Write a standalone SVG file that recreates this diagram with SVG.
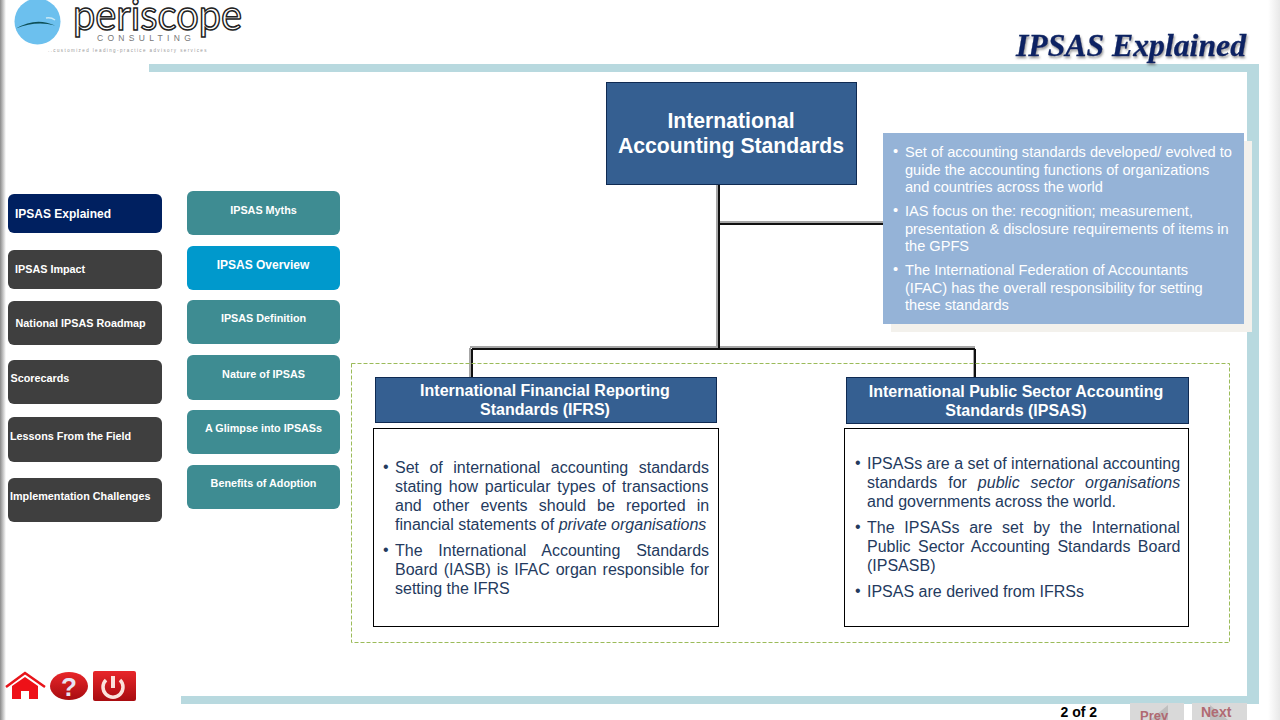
<svg xmlns="http://www.w3.org/2000/svg" width="1280" height="720" viewBox="0 0 1280 720">
<style>
text{font-family:"Liberation Sans",Arial,sans-serif}
.nav{fill:#fff;font-weight:700;font-size:10.800px}
.hd{fill:#fff;font-weight:700;font-size:16px;text-anchor:middle}
.dk{fill:#243a5e;font-size:16px}
.wt{fill:#fff;font-size:14.600px}
.g{fill:#3f3f3f}.t{fill:#3e8c92}
.cs{stroke:#a6a6a6;stroke-width:2;fill:none}
.ck{stroke:#111;stroke-width:2;fill:none}
</style>
<defs>
<linearGradient id="ls" x1="0" x2="1" y1="0" y2="0"><stop offset="0" stop-color="#8a8a8a"/><stop offset="1" stop-color="#fff"/></linearGradient>
<linearGradient id="rs" x1="0" x2="1" y1="0" y2="0"><stop offset="0" stop-color="#fff"/><stop offset="1" stop-color="#e8e8e8"/></linearGradient>
<linearGradient id="red" x1="0" x2="0" y1="0" y2="1"><stop offset="0" stop-color="#e8262a"/><stop offset="1" stop-color="#a80c10"/></linearGradient>
<filter id="sh" x="-5%" y="-20%" width="110%" height="140%"><feDropShadow dx="1" dy="2" stdDeviation="1" flood-color="#555" flood-opacity=".6"/></filter>
</defs>
<rect width="1280" height="720" fill="#fff"/>
<rect x="0" y="0" width="6" height="720" fill="url(#ls)"/>
<rect x="1268" y="0" width="12" height="720" fill="url(#rs)"/>
<g id="frame" fill="#b8d9df">
<rect x="149" y="64" width="1110" height="8"/>
<rect x="1247" y="64" width="12" height="639"/>
<rect x="181" y="696" width="1078" height="8"/>
</g>
<g id="logo">
<circle cx="37.500" cy="21.500" r="23" fill="#6cc0ee"/>
<path d="M16 28.500Q36 16.500 55 25.500Q36 20.500 16 28.500Z" fill="#0d4f57"/>
<path d="M46 18Q51 17 55 20" fill="none" stroke="#c8e8f6" stroke-width="1.500"/>
<text x="73" y="30" font-size="42" fill="#fff" stroke="#222" stroke-width="1.500" style="font-family:Lato,'Liberation Sans',sans-serif" textLength="169" lengthAdjust="spacingAndGlyphs">periscope</text>
<text x="97" y="41" font-size="8.500" fill="#777" letter-spacing="4.300">CONSULTING</text>
<text x="48" y="52" font-size="4.500" fill="#999" letter-spacing="1.400">..customized leading-practice advisory services</text>
</g>
<text id="title" x="1016" y="56" textLength="230" lengthAdjust="spacingAndGlyphs" font-size="31.500" font-weight="700" font-style="italic" fill="#0b2463" stroke="#0b2463" stroke-width=".3" filter="url(#sh)" style="font-family:'Liberation Serif',serif">IPSAS Explained</text>
<g id="connectors">
<path class="cs" d="M717 185V347M717 222H883M470 348V377M470 347H975M974 348V377"/>
<path class="ck" d="M719 185V348M719 224H883M472 349V377M472 349H975M975 349V377"/>
</g>
<g id="root"><rect x="606.500" y="82.500" width="250" height="102" fill="#355f91" stroke="#0f2a52"/>
<text class="hd" style="font-size:21.200px"><tspan x="731" y="128">International</tspan><tspan x="731" y="153">Accounting Standards</tspan></text></g>
<g id="info"><rect x="891" y="141" width="361" height="191" fill="#f3f1ec"/><rect x="883" y="133" width="361" height="191" fill="#95b3d7"/>
<text class="wt">
<tspan x="893" y="156">•</tspan><tspan x="905" y="157">Set of accounting standards developed/ evolved to</tspan>
<tspan x="905" y="175">guide the accounting functions of organizations</tspan>
<tspan x="905" y="192">and countries across the world</tspan>
<tspan x="893" y="215">•</tspan><tspan x="905" y="216">IAS focus on the: recognition; measurement,</tspan>
<tspan x="905" y="234">presentation &amp; disclosure requirements of items in</tspan>
<tspan x="905" y="251">the GPFS</tspan>
<tspan x="893" y="274">•</tspan><tspan x="905" y="275">The International Federation of Accountants</tspan>
<tspan x="905" y="293">(IFAC) has the overall responsibility for setting</tspan>
<tspan x="905" y="310">these standards</tspan>
</text></g>
<g id="outline"><rect x="351.500" y="363.500" width="878" height="279" fill="none" stroke="#9bbb59" stroke-dasharray="4 2"/></g>
<g id="ifrs"><rect x="375.500" y="377.500" width="341" height="45" fill="#355f91" stroke="#0f2a52"/>
<text class="hd"><tspan x="545" y="396">International Financial Reporting</tspan><tspan x="545" y="415">Standards (IFRS)</tspan></text></g>
<g id="ipsas"><rect x="846.500" y="377.500" width="342" height="46" fill="#355f91" stroke="#0f2a52"/>
<text class="hd"><tspan x="1016" y="397">International Public Sector Accounting</tspan><tspan x="1016" y="416">Standards (IPSAS)</tspan></text></g>
<g id="ifrs-body"><rect x="373.500" y="428.500" width="345" height="198" fill="#fff" stroke="#000"/>
<text class="dk">
<tspan x="383" y="472">•</tspan><tspan x="395" y="473" word-spacing="6">Set of international accounting standards</tspan>
<tspan x="395" y="492" word-spacing="2.200">stating how particular types of transactions</tspan>
<tspan x="395" y="511" word-spacing="6.700">and other events should be reported in</tspan>
<tspan x="395" y="530">financial statements of <tspan font-style="italic">private organisations</tspan></tspan>
<tspan x="383" y="555">•</tspan><tspan x="395" y="556" word-spacing="11.300">The International Accounting Standards</tspan>
<tspan x="395" y="575" word-spacing="1.500">Board (IASB) is IFAC organ responsible for</tspan>
<tspan x="395" y="594">setting the IFRS</tspan>
</text></g>
<g id="ipsas-body"><rect x="844.500" y="428.500" width="344" height="198" fill="#fff" stroke="#000"/>
<text class="dk">
<tspan x="855" y="468">•</tspan><tspan x="867" y="469">IPSASs are a set of international accounting</tspan>
<tspan x="867" y="488" word-spacing="6.500">standards for <tspan font-style="italic">public sector organisations</tspan></tspan>
<tspan x="867" y="507">and governments across the world.</tspan>
<tspan x="855" y="532">•</tspan><tspan x="867" y="533" word-spacing="5.300">The IPSASs are set by the International</tspan>
<tspan x="867" y="552" word-spacing="3">Public Sector Accounting Standards Board</tspan>
<tspan x="867" y="571">(IPSASB)</tspan>
<tspan x="855" y="596">•</tspan><tspan x="867" y="597">IPSAS are derived from IFRSs</tspan>
</text></g>
<g id="nav1"><rect x="8" y="194" width="154" height="39" rx="6" fill="#002060"/><text class="nav" style="font-size:12px" x="15" y="218">IPSAS Explained</text></g>
<g id="nav2"><rect class="g" x="8" y="250" width="154" height="39" rx="6"/><text class="nav" x="15" y="273">IPSAS Impact</text></g>
<g id="nav3"><rect class="g" x="8" y="301" width="154" height="44" rx="6"/><text class="nav" x="15.500" y="327">National IPSAS Roadmap</text></g>
<g id="nav4"><rect class="g" x="8" y="360" width="154" height="44" rx="6"/><text class="nav" x="10.500" y="382">Scorecards</text></g>
<g id="nav5"><rect class="g" x="8" y="417" width="154" height="45" rx="6"/><text class="nav" x="10" y="440">Lessons From the Field</text></g>
<g id="nav6"><rect class="g" x="8" y="478" width="154" height="44" rx="6"/><text class="nav" x="10" y="500">Implementation Challenges</text></g>
<g id="sub1"><rect class="t" x="187" y="191" width="153" height="44" rx="6"/><text class="nav" text-anchor="middle" x="263.500" y="214">IPSAS Myths</text></g>
<g id="sub2"><rect x="187" y="246" width="153" height="44" rx="6" fill="#0099cc"/><text class="nav" style="font-size:12px" text-anchor="middle" x="263" y="269">IPSAS Overview</text></g>
<g id="sub3"><rect class="t" x="187" y="300" width="153" height="44" rx="6"/><text class="nav" text-anchor="middle" x="263.500" y="322">IPSAS Definition</text></g>
<g id="sub4"><rect class="t" x="187" y="355" width="153" height="45" rx="6"/><text class="nav" text-anchor="middle" x="263.500" y="378">Nature of IPSAS</text></g>
<g id="sub5"><rect class="t" x="187" y="410" width="153" height="44" rx="6"/><text class="nav" text-anchor="middle" x="263.500" y="432">A Glimpse into IPSASs</text></g>
<g id="sub6"><rect class="t" x="187" y="465" width="153" height="44" rx="6"/><text class="nav" text-anchor="middle" x="263.500" y="487">Benefits of Adoption</text></g>
<g id="home"><path d="M6 687L25 673L45 687" fill="none" stroke="#e8141a" stroke-width="2.500"/><path d="M12 686L25 677L38 686V699H29V691H21V699H12Z" fill="#ee1118"/></g>
<g id="help"><ellipse cx="69" cy="686" rx="19" ry="14" fill="url(#red)"/><text x="69" y="696" text-anchor="middle" font-size="26" font-weight="700" fill="#e8e4f4">?</text></g>
<g id="power"><rect x="93" y="671" width="43" height="30" rx="2" fill="url(#red)"/><path d="M106 680A10 10 0 1 0 120 680" fill="none" stroke="#fbe3dc" stroke-width="3.500"/><path d="M113 676V688" stroke="#fbe3dc" stroke-width="4"/></g>
<text id="page" x="1060.500" y="717" font-size="14" font-weight="700" fill="#000">2 of 2</text>
<g id="prev"><rect x="1130" y="703" width="54" height="17" fill="#d9d9d9"/><path d="M1168 705V720H1150Z" fill="#bfbfbf"/><text x="1140" y="720" font-size="13" font-weight="700" fill="#b06a72">Prev</text></g>
<g id="next"><rect x="1192" y="703" width="55" height="17" fill="#d9d9d9"/><path d="M1210 705L1228 720H1210Z" fill="#bfbfbf"/><text x="1201" y="717" font-size="14" font-weight="700" fill="#b06a72">Next</text></g>
</svg>
